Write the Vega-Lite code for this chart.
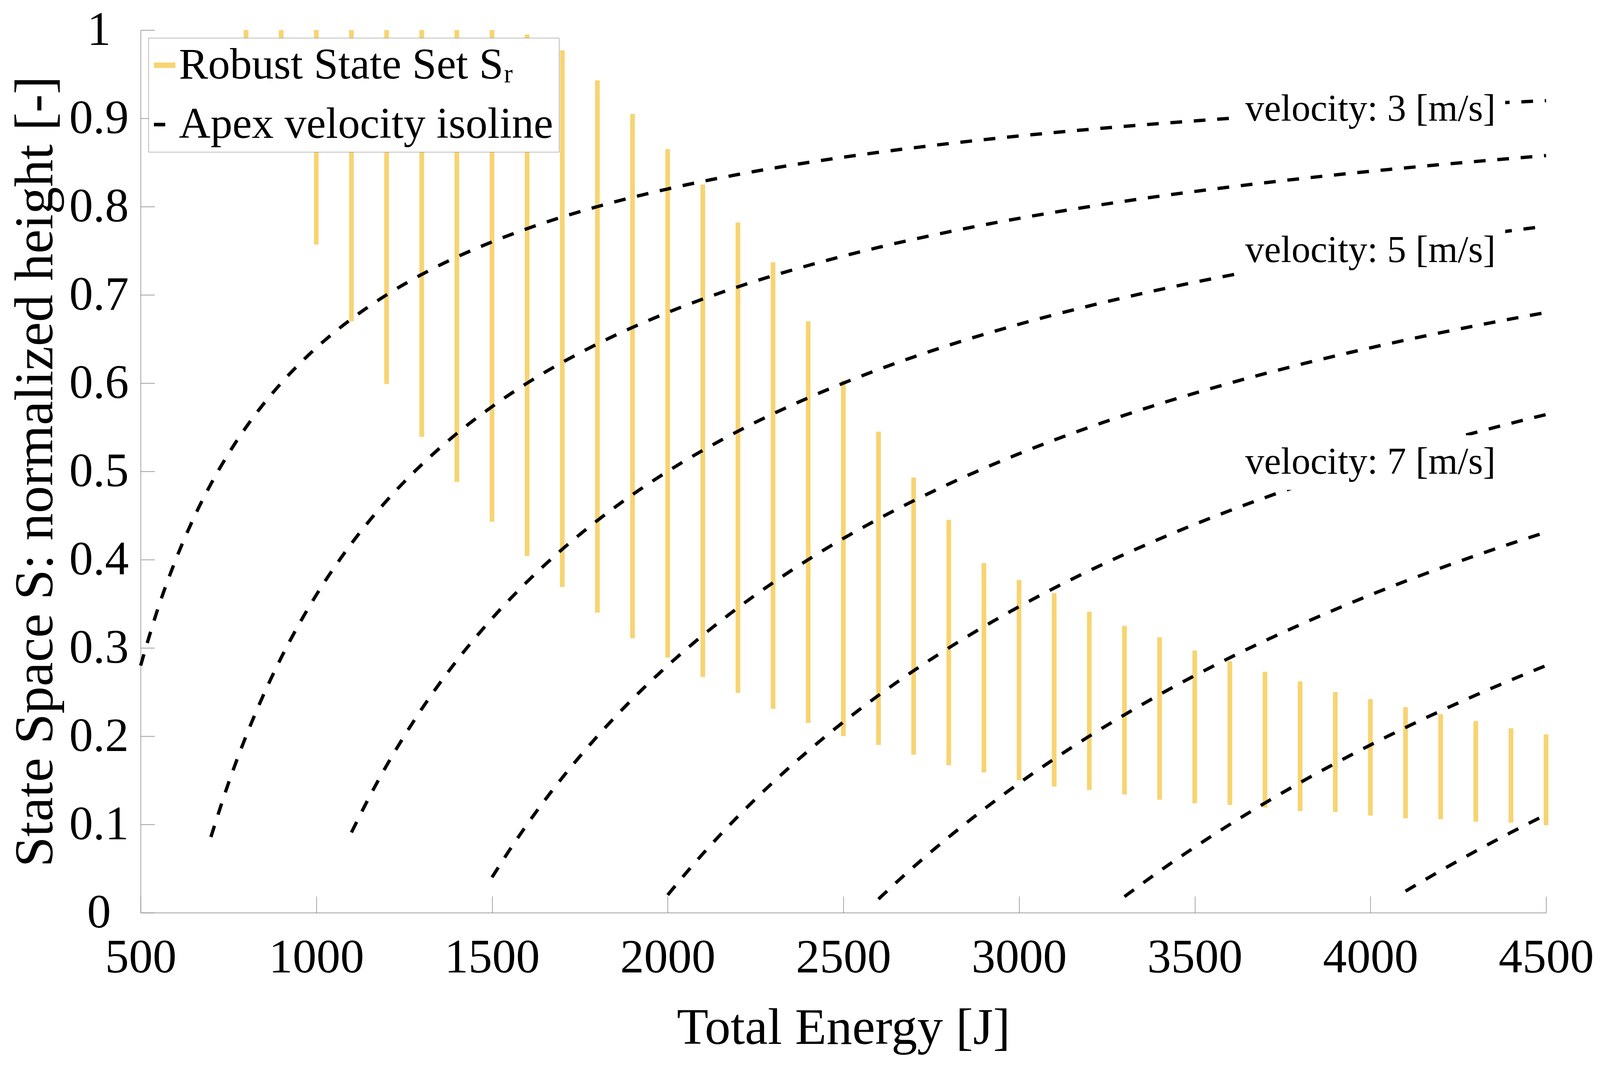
{
  "$schema": "https://vega.github.io/schema/vega-lite/v6.json",
  "width": 3598,
  "height": 2260,
  "autosize": "none",
  "padding": {"left": 360, "top": 77, "right": 139, "bottom": 390},
  "background": "white",
  "config": {
    "view": {"stroke": null},
    "font": "Liberation Serif",
    "axis": {
      "domainColor": "#808080",
      "domainWidth": 1.4,
      "tickColor": "#808080",
      "tickWidth": 1.4,
      "grid": false,
      "labelFont": "Liberation Serif",
      "labelFontSize": 122,
      "labelColor": "#000000",
      "labelFlush": false,
      "labelOverlap": false,
      "labelLimit": 2000,
      "titleFont": "Liberation Serif",
      "titleFontWeight": "normal",
      "titleColor": "#000000"
    },
    "legend": {
      "orient": "top-left",
      "offset": 20,
      "padding": 14,
      "rowPadding": 40,
      "fillColor": "white",
      "strokeColor": "#808080",
      "labelFont": "Liberation Serif",
      "labelFontSize": 112,
      "labelColor": "#000000",
      "labelOffset": 8,
      "labelLimit": 3000,
      "symbolType": "stroke",
      "symbolSize": 3025,
      "symbolOpacity": 1
    }
  },
  "datasets": {
    "robust": [
      {"E": 800, "h": 0.97, "h2": 1},
      {"E": 900, "h": 0.865, "h2": 1},
      {"E": 1000, "h": 0.757, "h2": 1},
      {"E": 1100, "h": 0.67, "h2": 1},
      {"E": 1200, "h": 0.599, "h2": 1},
      {"E": 1300, "h": 0.539, "h2": 1},
      {"E": 1400, "h": 0.488, "h2": 1},
      {"E": 1500, "h": 0.443, "h2": 1},
      {"E": 1600, "h": 0.404, "h2": 0.995},
      {"E": 1700, "h": 0.369, "h2": 0.977},
      {"E": 1800, "h": 0.34, "h2": 0.943},
      {"E": 1900, "h": 0.311, "h2": 0.905},
      {"E": 2000, "h": 0.289, "h2": 0.865},
      {"E": 2100, "h": 0.267, "h2": 0.825},
      {"E": 2200, "h": 0.249, "h2": 0.782},
      {"E": 2300, "h": 0.231, "h2": 0.737},
      {"E": 2400, "h": 0.215, "h2": 0.67},
      {"E": 2500, "h": 0.2, "h2": 0.603},
      {"E": 2600, "h": 0.19, "h2": 0.545},
      {"E": 2700, "h": 0.179, "h2": 0.493},
      {"E": 2800, "h": 0.167, "h2": 0.445},
      {"E": 2900, "h": 0.159, "h2": 0.396},
      {"E": 3000, "h": 0.15, "h2": 0.377},
      {"E": 3100, "h": 0.143, "h2": 0.362},
      {"E": 3200, "h": 0.139, "h2": 0.341},
      {"E": 3300, "h": 0.134, "h2": 0.325},
      {"E": 3400, "h": 0.128, "h2": 0.312},
      {"E": 3500, "h": 0.124, "h2": 0.297},
      {"E": 3600, "h": 0.122, "h2": 0.285},
      {"E": 3700, "h": 0.119, "h2": 0.273},
      {"E": 3800, "h": 0.115, "h2": 0.262},
      {"E": 3900, "h": 0.114, "h2": 0.25},
      {"E": 4000, "h": 0.11, "h2": 0.242},
      {"E": 4100, "h": 0.107, "h2": 0.233},
      {"E": 4200, "h": 0.106, "h2": 0.225},
      {"E": 4300, "h": 0.103, "h2": 0.217},
      {"E": 4400, "h": 0.102, "h2": 0.209},
      {"E": 4500, "h": 0.099, "h2": 0.202}
    ],
    "isolines": [
      {"v": 3, "E": 500, "h": 0.28},
      {"v": 3, "E": 550, "h": 0.3455},
      {"v": 3, "E": 600, "h": 0.4},
      {"v": 3, "E": 650, "h": 0.4462},
      {"v": 3, "E": 700, "h": 0.4857},
      {"v": 3, "E": 750, "h": 0.52},
      {"v": 3, "E": 800, "h": 0.55},
      {"v": 3, "E": 900, "h": 0.6},
      {"v": 3, "E": 1000, "h": 0.64},
      {"v": 3, "E": 1100, "h": 0.6727},
      {"v": 3, "E": 1200, "h": 0.7},
      {"v": 3, "E": 1300, "h": 0.7231},
      {"v": 3, "E": 1400, "h": 0.7429},
      {"v": 3, "E": 1500, "h": 0.76},
      {"v": 3, "E": 1600, "h": 0.775},
      {"v": 3, "E": 1800, "h": 0.8},
      {"v": 3, "E": 2000, "h": 0.82},
      {"v": 3, "E": 2200, "h": 0.8364},
      {"v": 3, "E": 2400, "h": 0.85},
      {"v": 3, "E": 2600, "h": 0.8615},
      {"v": 3, "E": 2800, "h": 0.8714},
      {"v": 3, "E": 3000, "h": 0.88},
      {"v": 3, "E": 3200, "h": 0.8875},
      {"v": 3, "E": 3400, "h": 0.8941},
      {"v": 3, "E": 3600, "h": 0.9},
      {"v": 3, "E": 3800, "h": 0.9053},
      {"v": 3, "E": 4000, "h": 0.91},
      {"v": 3, "E": 4200, "h": 0.9143},
      {"v": 3, "E": 4400, "h": 0.9182},
      {"v": 3, "E": 4500, "h": 0.92},
      {"v": 4, "E": 700, "h": 0.0857},
      {"v": 4, "E": 750, "h": 0.1467},
      {"v": 4, "E": 800, "h": 0.2},
      {"v": 4, "E": 850, "h": 0.2471},
      {"v": 4, "E": 900, "h": 0.2889},
      {"v": 4, "E": 1000, "h": 0.36},
      {"v": 4, "E": 1100, "h": 0.4182},
      {"v": 4, "E": 1200, "h": 0.4667},
      {"v": 4, "E": 1300, "h": 0.5077},
      {"v": 4, "E": 1400, "h": 0.5429},
      {"v": 4, "E": 1500, "h": 0.5733},
      {"v": 4, "E": 1600, "h": 0.6},
      {"v": 4, "E": 1800, "h": 0.6444},
      {"v": 4, "E": 2000, "h": 0.68},
      {"v": 4, "E": 2200, "h": 0.7091},
      {"v": 4, "E": 2400, "h": 0.7333},
      {"v": 4, "E": 2600, "h": 0.7538},
      {"v": 4, "E": 2800, "h": 0.7714},
      {"v": 4, "E": 3000, "h": 0.7867},
      {"v": 4, "E": 3200, "h": 0.8},
      {"v": 4, "E": 3400, "h": 0.8118},
      {"v": 4, "E": 3600, "h": 0.8222},
      {"v": 4, "E": 3800, "h": 0.8316},
      {"v": 4, "E": 4000, "h": 0.84},
      {"v": 4, "E": 4200, "h": 0.8476},
      {"v": 4, "E": 4400, "h": 0.8545},
      {"v": 4, "E": 4500, "h": 0.8578},
      {"v": 5, "E": 1100, "h": 0.0909},
      {"v": 5, "E": 1150, "h": 0.1304},
      {"v": 5, "E": 1200, "h": 0.1667},
      {"v": 5, "E": 1250, "h": 0.2},
      {"v": 5, "E": 1300, "h": 0.2308},
      {"v": 5, "E": 1400, "h": 0.2857},
      {"v": 5, "E": 1500, "h": 0.3333},
      {"v": 5, "E": 1600, "h": 0.375},
      {"v": 5, "E": 1700, "h": 0.4118},
      {"v": 5, "E": 1800, "h": 0.4444},
      {"v": 5, "E": 1900, "h": 0.4737},
      {"v": 5, "E": 2000, "h": 0.5},
      {"v": 5, "E": 2200, "h": 0.5455},
      {"v": 5, "E": 2400, "h": 0.5833},
      {"v": 5, "E": 2600, "h": 0.6154},
      {"v": 5, "E": 2800, "h": 0.6429},
      {"v": 5, "E": 3000, "h": 0.6667},
      {"v": 5, "E": 3200, "h": 0.6875},
      {"v": 5, "E": 3400, "h": 0.7059},
      {"v": 5, "E": 3600, "h": 0.7222},
      {"v": 5, "E": 3800, "h": 0.7368},
      {"v": 5, "E": 4000, "h": 0.75},
      {"v": 5, "E": 4200, "h": 0.7619},
      {"v": 5, "E": 4400, "h": 0.7727},
      {"v": 5, "E": 4500, "h": 0.7778},
      {"v": 6, "E": 1500, "h": 0.04},
      {"v": 6, "E": 1550, "h": 0.071},
      {"v": 6, "E": 1600, "h": 0.1},
      {"v": 6, "E": 1650, "h": 0.1273},
      {"v": 6, "E": 1700, "h": 0.1529},
      {"v": 6, "E": 1800, "h": 0.2},
      {"v": 6, "E": 1900, "h": 0.2421},
      {"v": 6, "E": 2000, "h": 0.28},
      {"v": 6, "E": 2100, "h": 0.3143},
      {"v": 6, "E": 2200, "h": 0.3455},
      {"v": 6, "E": 2300, "h": 0.3739},
      {"v": 6, "E": 2400, "h": 0.4},
      {"v": 6, "E": 2600, "h": 0.4462},
      {"v": 6, "E": 2800, "h": 0.4857},
      {"v": 6, "E": 3000, "h": 0.52},
      {"v": 6, "E": 3200, "h": 0.55},
      {"v": 6, "E": 3400, "h": 0.5765},
      {"v": 6, "E": 3600, "h": 0.6},
      {"v": 6, "E": 3800, "h": 0.6211},
      {"v": 6, "E": 4000, "h": 0.64},
      {"v": 6, "E": 4200, "h": 0.6571},
      {"v": 6, "E": 4400, "h": 0.6727},
      {"v": 6, "E": 4500, "h": 0.68},
      {"v": 7, "E": 2000, "h": 0.02},
      {"v": 7, "E": 2050, "h": 0.0439},
      {"v": 7, "E": 2100, "h": 0.0667},
      {"v": 7, "E": 2150, "h": 0.0884},
      {"v": 7, "E": 2200, "h": 0.1091},
      {"v": 7, "E": 2300, "h": 0.1478},
      {"v": 7, "E": 2400, "h": 0.1833},
      {"v": 7, "E": 2500, "h": 0.216},
      {"v": 7, "E": 2600, "h": 0.2462},
      {"v": 7, "E": 2700, "h": 0.2741},
      {"v": 7, "E": 2800, "h": 0.3},
      {"v": 7, "E": 3000, "h": 0.3467},
      {"v": 7, "E": 3200, "h": 0.3875},
      {"v": 7, "E": 3400, "h": 0.4235},
      {"v": 7, "E": 3600, "h": 0.4556},
      {"v": 7, "E": 3800, "h": 0.4842},
      {"v": 7, "E": 4000, "h": 0.51},
      {"v": 7, "E": 4200, "h": 0.5333},
      {"v": 7, "E": 4400, "h": 0.5545},
      {"v": 7, "E": 4500, "h": 0.5644},
      {"v": 8, "E": 2600, "h": 0.0154},
      {"v": 8, "E": 2650, "h": 0.034},
      {"v": 8, "E": 2700, "h": 0.0519},
      {"v": 8, "E": 2750, "h": 0.0691},
      {"v": 8, "E": 2800, "h": 0.0857},
      {"v": 8, "E": 2900, "h": 0.1172},
      {"v": 8, "E": 3000, "h": 0.1467},
      {"v": 8, "E": 3100, "h": 0.1742},
      {"v": 8, "E": 3200, "h": 0.2},
      {"v": 8, "E": 3300, "h": 0.2242},
      {"v": 8, "E": 3400, "h": 0.2471},
      {"v": 8, "E": 3600, "h": 0.2889},
      {"v": 8, "E": 3800, "h": 0.3263},
      {"v": 8, "E": 4000, "h": 0.36},
      {"v": 8, "E": 4200, "h": 0.3905},
      {"v": 8, "E": 4400, "h": 0.4182},
      {"v": 8, "E": 4500, "h": 0.4311},
      {"v": 9, "E": 3300, "h": 0.0182},
      {"v": 9, "E": 3350, "h": 0.0328},
      {"v": 9, "E": 3400, "h": 0.0471},
      {"v": 9, "E": 3450, "h": 0.0609},
      {"v": 9, "E": 3500, "h": 0.0743},
      {"v": 9, "E": 3600, "h": 0.1},
      {"v": 9, "E": 3700, "h": 0.1243},
      {"v": 9, "E": 3800, "h": 0.1474},
      {"v": 9, "E": 3900, "h": 0.1692},
      {"v": 9, "E": 4000, "h": 0.19},
      {"v": 9, "E": 4100, "h": 0.2098},
      {"v": 9, "E": 4200, "h": 0.2286},
      {"v": 9, "E": 4300, "h": 0.2465},
      {"v": 9, "E": 4400, "h": 0.2636},
      {"v": 9, "E": 4500, "h": 0.28},
      {"v": 10, "E": 4100, "h": 0.0244},
      {"v": 10, "E": 4150, "h": 0.0361},
      {"v": 10, "E": 4200, "h": 0.0476},
      {"v": 10, "E": 4250, "h": 0.0588},
      {"v": 10, "E": 4300, "h": 0.0698},
      {"v": 10, "E": 4400, "h": 0.0909},
      {"v": 10, "E": 4500, "h": 0.1111}
    ],
    "labels": [
      {"E": 4000, "h": 0.91, "label": "velocity: 3 [m/s]"},
      {"E": 4000, "h": 0.75, "label": "velocity: 5 [m/s]"},
      {"E": 4000, "h": 0.51, "label": "velocity: 7 [m/s]"}
    ]
  },
  "encoding": {
    "x": {
      "field": "E",
      "type": "quantitative",
      "title": "Total Energy [J]",
      "scale": {"domain": [500, 4500], "nice": false, "zero": false},
      "axis": {
        "values": [500, 1000, 1500, 2000, 2500, 3000, 3500, 4000, 4500],
        "format": "d",
        "tickSize": -42,
        "labelPadding": 98,
        "titleFontSize": 132,
        "titlePadding": 55
      }
    },
    "y": {
      "field": "h",
      "type": "quantitative",
      "title": "State Space S: normalized height [-]",
      "scale": {"domain": [0, 1], "nice": false},
      "axis": {
        "values": [0, 0.1, 0.2, 0.3, 0.4, 0.5, 0.6, 0.7, 0.8, 0.9, 1],
        "format": "~g",
        "tickSize": -36,
        "labelAlign": "center",
        "labelBaseline": "middle",
        "labelPadding": 143,
        "titleFontSize": 140,
        "titlePadding": 14
      }
    }
  },
  "layer": [
    {
      "data": {"name": "robust"},
      "mark": {"type": "rule", "strokeWidth": 12},
      "encoding": {
        "y2": {"field": "h2"},
        "color": {
          "datum": "Robust State Set Sᵣ",
          "scale": {
            "domain": ["Robust State Set Sᵣ", "Apex velocity isoline"],
            "range": ["#F7D472", "#000000"]
          },
          "legend": {
            "title": null,
            "encode": {
              "symbols": {
                "update": {
                  "x": {"value": 27.5},
                  "strokeDash": {"signal": "datum.value === 'Apex velocity isoline' ? [29, 29] : [1, 0]"},
                  "strokeWidth": {"signal": "datum.value === 'Apex velocity isoline' ? 9 : 14"}
                }
              },
              "labels": {
                "update": {
                  "x": {"value": 64}
                }
              }
            }
          }
        }
      }
    },
    {
      "data": {"name": "isolines"},
      "mark": {"type": "line", "interpolate": "monotone", "strokeWidth": 8.5, "strokeDash": [30, 30]},
      "encoding": {
        "detail": {"field": "v", "type": "nominal"},
        "color": {"datum": "Apex velocity isoline"}
      }
    },
    {
      "data": {"name": "labels"},
      "mark": {"type": "rect", "width": 690, "height": 140, "color": "white"},
      "encoding": {}
    },
    {
      "data": {"name": "labels"},
      "mark": {
        "type": "text",
        "font": "Liberation Serif",
        "fontSize": 97,
        "align": "center",
        "baseline": "middle",
        "color": "#000000"
      },
      "encoding": {
        "text": {"field": "label"}
      }
    }
  ]
}
